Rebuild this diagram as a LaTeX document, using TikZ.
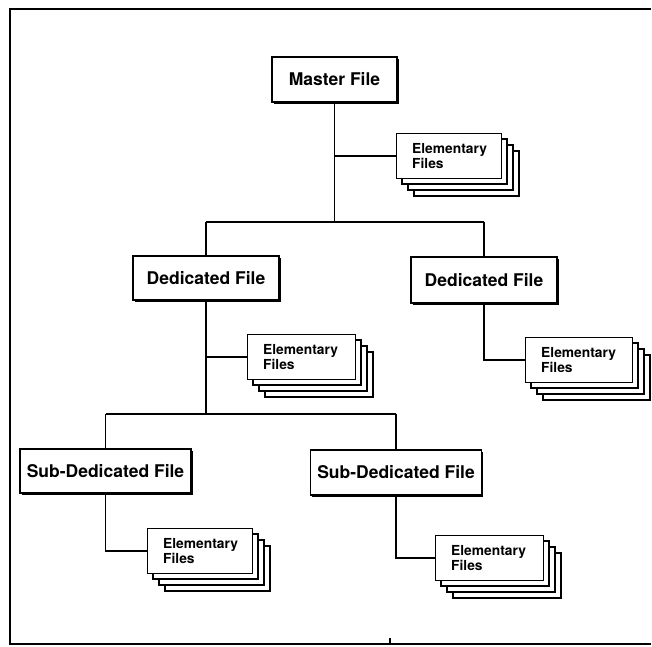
\documentclass[tikz,border=0pt]{standalone}
\usepackage{fontspec}
\setmainfont{TeX Gyre Heros}
\usetikzlibrary{calc,shadows}
\tikzset{
  filebox/.style={draw, line width=1.5pt, fill=white, inner sep=0pt,
    font=\bfseries\fontsize{17.5}{20}\selectfont,
    drop shadow={shadow xshift=1.8pt, shadow yshift=-1.8pt, fill=black, opacity=1}},
  elembox/.style={draw, line width=1.4pt, fill=white, inner sep=0pt, minimum height=45pt},
  backbox/.style={draw, line width=1.4pt, fill=white},
  elemtext/.style={inner sep=0pt, align=left, font=\bfseries\fontsize{13.8}{14.5}\selectfont},
  conn/.style={line width=1.5pt},
  frameline/.style={line width=2.2pt}
}
\newcommand\elemstack[4]{%
  \foreach \k in {3,2,1} {\draw[backbox] (#2+6*\k, #3+6*\k) rectangle ++(#4,45);}
  \node[elembox, minimum width=#4pt, anchor=north west] (#1) at (#2,#3) {};
  \node[elemtext, anchor=west] (#1t) at ($(#1.west)+(16,0)$) {Elementary\\Files};
}
\begin{document}
\begin{tikzpicture}[x=1pt,y=-1pt]
\useasboundingbox (0,0) rectangle (652,646);
% frame (open on the right)
\draw[frameline] (651,9) -- (10,9) -- (10,644) -- (651,644);
\draw[line width=1.2pt] (390,638) -- (390,644);

% main boxes
\node[filebox, minimum width=125pt, minimum height=45pt] (master) at (334.5,79.5) {Master File};
\node[filebox, minimum width=146pt, minimum height=44pt] (dedL) at (206,278) {Dedicated File};
\node[filebox, minimum width=146pt, minimum height=46pt] (dedR) at (484,280) {Dedicated File};
\node[filebox, minimum width=171pt, minimum height=44pt] (subL) at (105.5,471) {Sub-Dedicated File};
\node[filebox, minimum width=171pt, minimum height=45pt] (subR) at (396,472.5) {Sub-Dedicated File};

% elementary stacks
\elemstack{e1}{396}{133}{105}
\elemstack{e2}{247}{334}{108}
\elemstack{e3}{525}{337}{107}
\elemstack{e4}{147}{528}{105}
\elemstack{e5}{435}{535}{108}

% connectors
\coordinate (h1) at (334.5,222);
\coordinate (h2) at (206,414);
\draw[conn] (master.south) -- (h1);
\draw[conn] (master.south |- e1.west) -- (e1.west);
\draw[conn] (dedL.north |- h1) -- (dedR.north |- h1);
\draw[conn] (dedL.north |- h1) -- (dedL.north);
\draw[conn] (dedR.north |- h1) -- (dedR.north);
\draw[conn] (dedL.south) -- (h2);
\draw[conn] (dedL.south |- e2.west) -- (e2.west);
\draw[conn] (dedR.south) -- (dedR.south |- e3.west) -- (e3.west);
\draw[conn] (subL.north |- h2) -- (subR.north |- h2);
\draw[conn] (subL.north |- h2) -- (subL.north);
\draw[conn] (subR.north |- h2) -- (subR.north);
\draw[conn] (subL.south) -- (subL.south |- e4.west) -- (e4.west);
\draw[conn] (subR.south) -- (subR.south |- e5.west) -- (e5.west);
\end{tikzpicture}
\end{document}
